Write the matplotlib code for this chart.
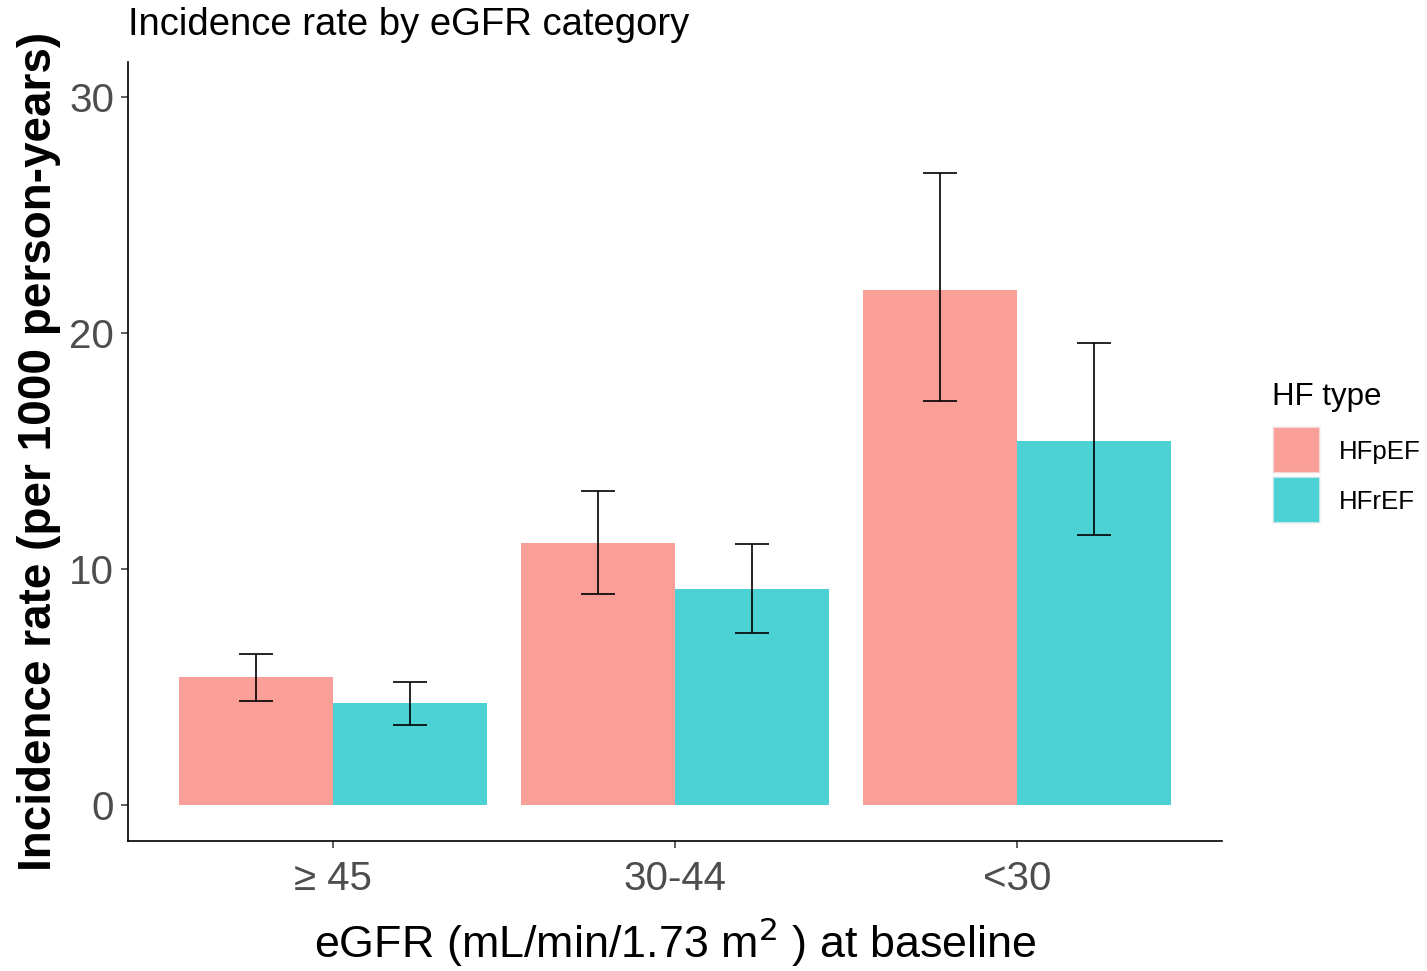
import numpy as np
import matplotlib
matplotlib.use("Agg")
import matplotlib.pyplot as plt
from matplotlib.patches import Rectangle

plt.rcParams["font.family"] = ["Liberation Sans", "DejaVu Sans"]

categories = ["\u2265 45", "30-44", "<30"]
hf_types = ["HFpEF", "HFrEF"]
rate = {"HFpEF": [5.42, 11.1, 21.8], "HFrEF": [4.32, 9.15, 15.42]}
lower = {"HFpEF": [4.4, 8.94, 17.12], "HFrEF": [3.4, 7.29, 11.44]}
upper = {"HFpEF": [6.4, 13.3, 26.78], "HFrEF": [5.2, 11.06, 19.58]}
colors = {"HFpEF": "#F8766D", "HFrEF": "#00BFC4"}

W, H = 1427, 971
fig = plt.figure(figsize=(W / 100, H / 100), dpi=100)
ax = fig.add_axes([128 / W, 1 - 841 / H, (1222 - 128) / W, (841 - 62) / H])

x = np.arange(1, len(categories) + 1)
bw = 0.45
for i, t in enumerate(hf_types):
    xs = x + (i - 0.5) * bw
    ax.bar(xs, rate[t], width=bw, color=colors[t], alpha=0.7, linewidth=0)
    ax.vlines(xs, lower[t], upper[t], color="black", lw=1.2)
    ax.hlines(lower[t], xs - 0.05, xs + 0.05, color="black", lw=1.2)
    ax.hlines(upper[t], xs - 0.05, xs + 0.05, color="black", lw=1.2)

ax.set_xlim(0.4, 3.6)
ax.set_ylim(-1.53, 31.48)
ax.set_xticks(x)
ax.set_xticklabels(categories)
ax.set_yticks([0, 10, 20, 30])
for s in ["top", "right"]:
    ax.spines[s].set_visible(False)
for s in ["left", "bottom"]:
    ax.spines[s].set_linewidth(1.2)
ax.tick_params(axis="both", length=5, width=1.1, color="#333333",
               labelcolor="#4D4D4D", labelsize=29, pad=5)
ax.tick_params(axis="x", pad=9)

ax.set_xlabel("eGFR (mL/min/1.73 m$^2$ ) at baseline", fontsize=32.3, labelpad=12)
ax.set_ylabel("Incidence rate (per 1000 person-years)", fontsize=33,
              fontweight="bold", labelpad=6)
fig.text(128 / W, 1 - 25 / H, "Incidence rate by eGFR category", fontsize=27.5,
         ha="left", va="center")

# legend
fig.text(1272 / W, 1 - 397 / H, "HF type", fontsize=22.5, ha="left", va="center")
for j, t in enumerate(hf_types):
    y0 = 427 + j * 50
    fig.add_artist(Rectangle((1273 / W, 1 - (y0 + 46) / H), 47 / W, 46 / H,
                             transform=fig.transFigure, facecolor=colors[t],
                             alpha=0.7, edgecolor="#F2F2F2", lw=1.5))
    fig.text(1339 / W, 1 - (y0 + 25) / H, t, fontsize=18.6, ha="left", va="center")

fig.savefig("out.png", dpi=100)
